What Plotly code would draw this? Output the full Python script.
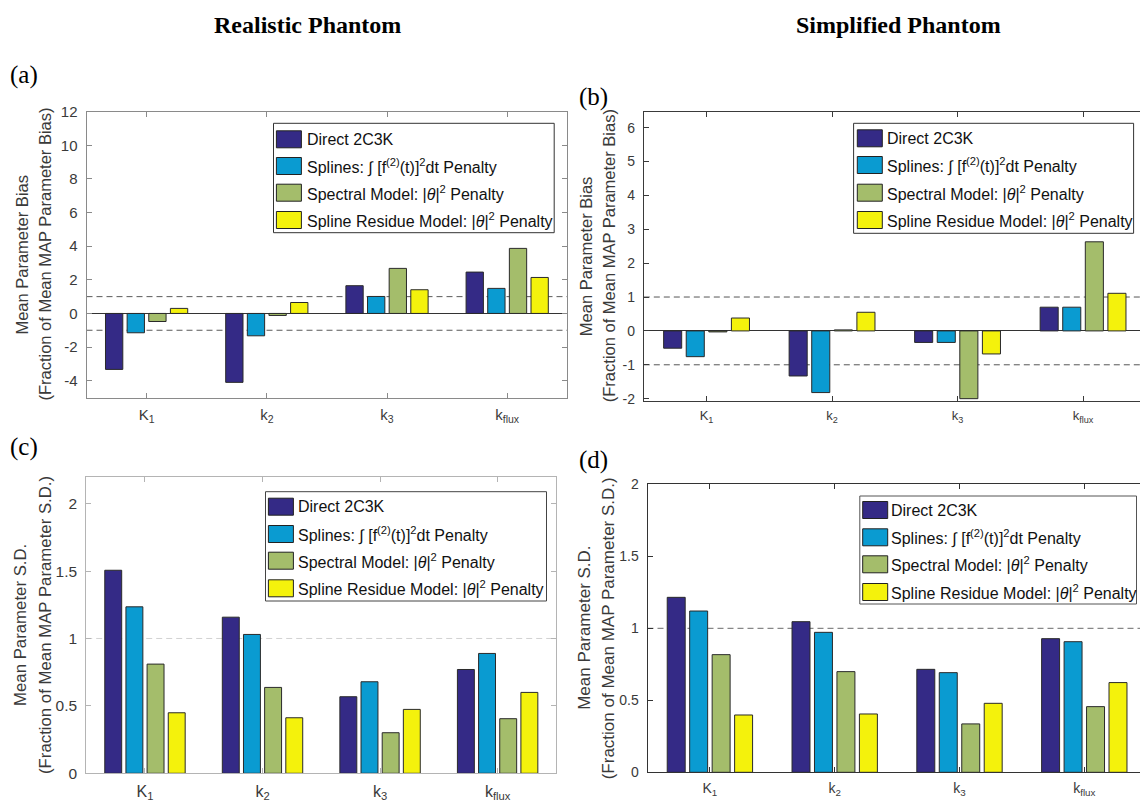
import plotly.graph_objects as go

# ---------------- data ----------------
CATEGORIES = ["K<sub>1</sub>", "k<sub>2</sub>", "k<sub>3</sub>", "k<sub>flux</sub>"]
CAT_POS = [1, 2, 3, 4]
SERIES_NAMES = [
    "Direct 2C3K",
    "Splines: \u222b [f<sup>(2)</sup>(t)]<sup>2</sup>dt Penalty",
    "Spectral Model: |<i>\u03b8</i>|<sup>2</sup> Penalty",
    "Spline Residue Model: |<i>\u03b8</i>|<sup>2</sup> Penalty",
]
SERIES_COLORS = ["#342a86", "#0a9bd1", "#a4bd6b", "#f4f20c"]

# (a) Realistic phantom - bias
a_direct = [-3.33, -4.10, 1.65, 2.46]
a_splines = [-1.15, -1.33, 1.01, 1.49]
a_spectral = [-0.48, -0.12, 2.68, 3.87]
a_residue = [0.30, 0.65, 1.41, 2.14]
# (b) Simplified phantom - bias
b_direct = [-0.51, -1.33, -0.34, 0.70]
b_splines = [-0.76, -1.82, -0.34, 0.70]
b_spectral = [-0.03, 0.03, -2.00, 2.63]
b_residue = [0.38, 0.55, -0.68, 1.11]
# (c) Realistic phantom - S.D.
c_direct = [1.506, 1.158, 0.568, 0.770]
c_splines = [1.235, 1.030, 0.679, 0.889]
c_spectral = [0.810, 0.637, 0.301, 0.405]
c_residue = [0.449, 0.412, 0.474, 0.600]
# (d) Simplified phantom - S.D.
d_direct = [1.215, 1.046, 0.715, 0.928]
d_splines = [1.120, 0.972, 0.692, 0.907]
d_spectral = [0.817, 0.699, 0.336, 0.456]
d_residue = [0.398, 0.405, 0.479, 0.623]

a_yticks = [-4, -2, 0, 2, 4, 6, 8, 10, 12]
b_yticks = [-2, -1, 0, 1, 2, 3, 4, 5, 6]
cd_yticks = [0, 0.5, 1, 1.5, 2]
bias_ref = [-1, 1]
sd_ref = [1]

# ---------------- layout helpers ----------------
W, H = 1140, 802


def px(x):
    return x / W


def py(y):
    return 1 - y / H


def fmt(v):
    return "%g" % v


panels = [
    dict(n="", data=[a_direct, a_splines, a_spectral, a_residue],
         xd=[86.5, 567.3], yd=[111.7, 397.5], xr=[0.5, 4.5], yr=[-5, 12],
         yt=a_yticks, ref=bias_ref, refcol="#5a5a5a", line="#8a8a8a", mirror_y=True,
         tfs=15, xfs=15, zero=True,
         ytitle=["Mean Parameter Bias", "(Fraction of Mean MAP Parameter Bias)"],
         ytx=[22, 45], tfsize=16.5,
         leg=dict(box=[273.5, 123.3, 554.2, 232.7], sw=276.4, tx=304.7,
                  rows=[139.3, 166.0, 192.7, 220.0], bcol="#333333")),
    dict(n="2", data=[b_direct, b_splines, b_spectral, b_residue],
         xd=[643.8, 1140], yd=[111.7, 400.7], xr=[0.5, 0.5 + (1140 - 643.8) / 125.5],
         yr=[-2.06, 6.47], yt=b_yticks, ref=bias_ref, refcol="#555555", line="#3a3a3a",
         mirror_y=False, tfs=14, xfs=13, zero=True,
         ytitle=["Mean Parameter Bias", "(Fraction of Mean MAP Parameter Bias)"],
         ytx=[586, 609], tfsize=16.5,
         leg=dict(box=[853.6, 123.3, 1133.6, 233.3], sw=857.3, tx=884.9,
                  rows=[138.3, 165.0, 192.7, 220.0], bcol="#333333")),
    dict(n="3", data=[c_direct, c_splines, c_spectral, c_residue],
         xd=[86.2, 556.4], yd=[476.7, 773.3], xr=[0.5, 4.5], yr=[0, 2.2],
         yt=cd_yticks, ref=sd_ref, refcol="#d2d2d2", line="#b4b4b4", mirror_y=True,
         tfs=15.5, xfs=16, zero=False,
         ytitle=["Mean Parameter S.D.", "(Fraction of Mean MAP Parameter S.D.)"],
         ytx=[20, 45], tfsize=16.8,
         leg=dict(box=[265.5, 491.7, 546.5, 601.0], sw=268.4, tx=296.4,
                  rows=[506.7, 534.0, 560.7, 588.3], bcol="#444444")),
    dict(n="4", data=[d_direct, d_splines, d_spectral, d_residue],
         xd=[647.5, 1140], yd=[484.3, 772.3], xr=[0.5, 0.5 + (1140 - 647.5) / 124.8],
         yr=[0, 2], yt=cd_yticks, ref=sd_ref, refcol="#6a6a6a", line="#333333",
         mirror_y=False, tfs=14, xfs=14, zero=False,
         ytitle=["Mean Parameter S.D.", "(Fraction of Mean MAP Parameter S.D.)"],
         ytx=[584.5, 608], tfsize=17,
         leg=dict(box=[859.8, 496.0, 1136.5, 604.0], sw=862.7, tx=889.3,
                  rows=[510.0, 537.3, 564.3, 592.0], bcol="#555555")),
]

fig = go.Figure()
shapes = []
annotations = []
tick_col = "#3a3a3a"
FONT = "Liberation Sans, Arial, sans-serif"
SERIF = "Liberation Serif, Times New Roman, serif"

layout = dict(
    width=W, height=H, margin=dict(l=0, r=0, t=0, b=0, pad=0, autoexpand=False),
    paper_bgcolor="white", plot_bgcolor="white",
    barmode="group", bargap=0.28, bargroupgap=0.2,
    showlegend=False, font=dict(family=FONT, color=tick_col),
)

for p in panels:
    n = p["n"]
    xa, ya = "x" + n, "y" + n
    for vals, name, col in zip(p["data"], SERIES_NAMES, SERIES_COLORS):
        fig.add_trace(go.Bar(
            x=CAT_POS, y=vals, name=name, xaxis=xa, yaxis=ya,
            marker=dict(color=col, line=dict(color="#2a2a2a", width=1)),
            showlegend=False,
        ))
    layout["xaxis" + n] = dict(
        domain=[px(p["xd"][0]), px(p["xd"][1])], range=p["xr"], anchor=ya,
        tickvals=CAT_POS, ticktext=CATEGORIES, showgrid=False, zeroline=False,
        showline=True, linecolor=p["line"], linewidth=1, mirror="ticks",
        ticks="inside", ticklen=5, tickcolor=p["line"], automargin=False,
        tickfont=dict(size=p["xfs"], color=tick_col, family=FONT),
        ticklabelstandoff=3,
    )
    layout["yaxis" + n] = dict(
        domain=[py(p["yd"][1]), py(p["yd"][0])], range=p["yr"], anchor=xa,
        tickvals=p["yt"], ticktext=[fmt(v) for v in p["yt"]], showgrid=False,
        zeroline=p["zero"], zerolinecolor="#333333", zerolinewidth=1,
        showline=True, linecolor=p["line"], linewidth=1,
        mirror="ticks" if p["mirror_y"] else False, automargin=False,
        ticks="inside", ticklen=5, tickcolor=p["line"],
        tickfont=dict(size=p["tfs"], color=tick_col, family=FONT),
        ticklabelstandoff=5,
    )
    for r in p["ref"]:
        shapes.append(dict(type="line", xref=xa + " domain", yref=ya,
                           x0=0, x1=1, y0=r, y1=r, layer="below",
                           line=dict(color=p["refcol"], width=1, dash="6px,4px")))
    # y-axis titles
    yc = (p["yd"][0] + p["yd"][1]) / 2
    for txt, xx in zip(p["ytitle"], p["ytx"]):
        annotations.append(dict(text=txt, x=px(xx), y=py(yc), xref="paper", yref="paper",
                                textangle=-90, showarrow=False, xanchor="center",
                                yanchor="middle",
                                font=dict(size=p["tfsize"], color=tick_col, family=FONT)))
    # legend box
    lg = p["leg"]
    bx0, by0, bx1, by1 = lg["box"]
    shapes.append(dict(type="rect", xref="paper", yref="paper",
                       x0=px(bx0), x1=px(bx1), y0=py(by1), y1=py(by0),
                       fillcolor="white", line=dict(color=lg["bcol"], width=1), layer="above"))
    for name, col, rc in zip(SERIES_NAMES, SERIES_COLORS, lg["rows"]):
        shapes.append(dict(type="rect", xref="paper", yref="paper",
                           x0=px(lg["sw"]), x1=px(lg["sw"] + 25),
                           y0=py(rc + 8.5), y1=py(rc - 8.5),
                           fillcolor=col, line=dict(color="#222222", width=1), layer="above"))
        annotations.append(dict(text=name, x=px(lg["tx"]), y=py(rc), xref="paper",
                                yref="paper", showarrow=False, xanchor="left",
                                yanchor="middle",
                                font=dict(size=16, color="#111111", family=FONT)))

# column titles and panel labels
for txt, xx, yy in [("<b>Realistic Phantom</b>", 307, 25), ("<b>Simplified Phantom</b>", 898, 25)]:
    annotations.append(dict(text=txt, x=px(xx), y=py(yy), xref="paper", yref="paper",
                            showarrow=False, xanchor="center", yanchor="middle",
                            font=dict(size=24, color="black", family=SERIF)))
for txt, xx, yy in [("(a)", 8, 75), ("(b)", 577, 97), ("(c)", 8, 447), ("(d)", 577, 460)]:
    annotations.append(dict(text=txt, x=px(xx), y=py(yy), xref="paper", yref="paper",
                            showarrow=False, xanchor="left", yanchor="middle",
                            font=dict(size=25, color="black", family=SERIF)))

layout["shapes"] = shapes
layout["annotations"] = annotations
fig.update_layout(**layout)
fig.write_html("out.html",
               config={"displayModeBar": False, "staticPlot": True},
               post_script="document.body.style.margin='0px';document.body.style.overflow='hidden';")
